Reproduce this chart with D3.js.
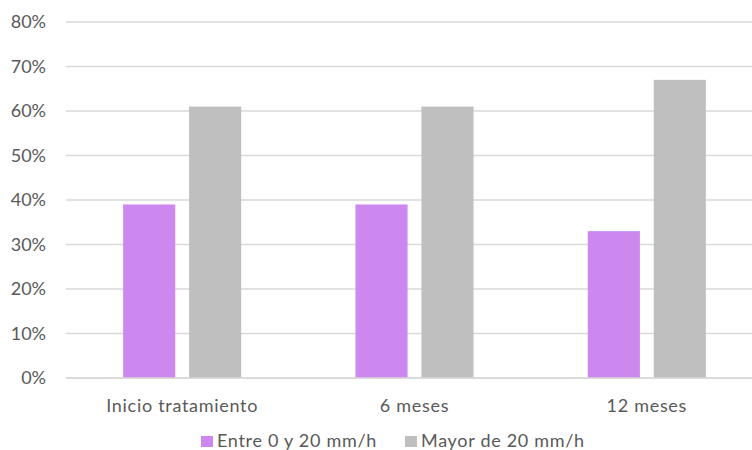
<!DOCTYPE html>
<html>
<head>
<meta charset="utf-8">
<script src="https://cdn.jsdelivr.net/npm/d3@7/dist/d3.min.js"></script>
<style>
  html, body { margin: 0; padding: 0; background: #fff; }
  svg { display: block; font-family: Lato, "Open Sans", sans-serif; }
</style>
</head>
<body>
<svg id="chart" width="752" height="450"></svg>
<script>
// Data
const categories = ["Inicio tratamiento", "6 meses", "12 meses"];
const seriesNames = ["Entre 0 y 20 mm/h", "Mayor de 20 mm/h"];
const entre0y20 = [39, 39, 33];
const mayor20 = [61, 61, 67];
const yTicks = [0, 10, 20, 30, 40, 50, 60, 70, 80];
const colors = ["#CD88F0", "#BFBFBF"];

const seriesValues = [entre0y20, mayor20];
const rows = categories.map((c, i) => ({
  category: c,
  values: seriesNames.map((s, k) => ({ key: s, value: seriesValues[k][i], color: colors[k] }))
}));

const svg = d3.select("#chart");
const margin = { left: 66, right: -11, top: 22, bottom: 72 };
const width = 752, height = 450;

const x = d3.scaleBand()
  .domain(categories)
  .range([margin.left, width - margin.right])
  .paddingInner(0)
  .paddingOuter(0);

const xInner = d3.scaleBand()
  .domain(seriesNames)
  .range([0, x.bandwidth()])
  .paddingInner(0.21)
  .paddingOuter(0.866);

const y = d3.scaleLinear()
  .domain([0, 80])
  .range([height - margin.bottom, margin.top]);

// Gridlines
svg.append("g")
  .selectAll("line")
  .data(yTicks)
  .join("line")
  .attr("x1", margin.left)
  .attr("x2", width)
  .attr("y1", d => y(d))
  .attr("y2", d => y(d))
  .attr("stroke", "#D9D9D9")
  .attr("stroke-width", 1.5);

// Y axis labels
const yAxis = d3.axisLeft(y)
  .tickValues(yTicks)
  .tickFormat(d => d + "%")
  .tickSize(0)
  .tickPadding(20);
const yg = svg.append("g")
  .attr("transform", `translate(${margin.left},0)`)
  .call(yAxis);
yg.select(".domain").remove();
yg.selectAll("text")
  .attr("fill", "#595959")
  .style("font-size", "18px")
  .style("font-family", "Lato, 'Open Sans', sans-serif");

// Bars
const groups = svg.append("g")
  .selectAll("g")
  .data(rows)
  .join("g")
  .attr("transform", d => `translate(${x(d.category)},0)`);

groups.selectAll("rect")
  .data(d => d.values)
  .join("rect")
  .attr("x", d => xInner(d.key))
  .attr("width", xInner.bandwidth())
  .attr("y", d => y(d.value))
  .attr("height", d => y(0) - y(d.value))
  .attr("fill", d => d.color);

// Baseline
svg.append("line")
  .attr("x1", margin.left)
  .attr("x2", width)
  .attr("y1", y(0))
  .attr("y2", y(0))
  .attr("stroke", "#D9D9D9")
  .attr("stroke-width", 1.5);

// X axis labels
const xAxis = d3.axisBottom(x).tickSize(0).tickPadding(21);
const xg = svg.append("g")
  .attr("transform", `translate(0,${y(0)})`)
  .call(xAxis);
xg.select(".domain").remove();
xg.selectAll("text")
  .attr("fill", "#595959")
  .style("font-size", "18px")
  .style("letter-spacing", "0.7px")
  .style("font-family", "Lato, 'Open Sans', sans-serif");

// Legend
const legendItems = [
  { name: seriesNames[0], color: colors[0], x: 201 },
  { name: seriesNames[1], color: colors[1], x: 405 }
];
const legend = svg.append("g");
const li = legend.selectAll("g")
  .data(legendItems)
  .join("g")
  .attr("transform", d => `translate(${d.x},436)`);
li.append("rect")
  .attr("width", 12)
  .attr("height", 11)
  .attr("fill", d => d.color);
li.append("text")
  .attr("x", 16)
  .attr("y", 11)
  .attr("fill", "#595959")
  .style("font-size", "18px")
  .style("letter-spacing", "0.7px")
  .text(d => d.name);
</script>
</body>
</html>
